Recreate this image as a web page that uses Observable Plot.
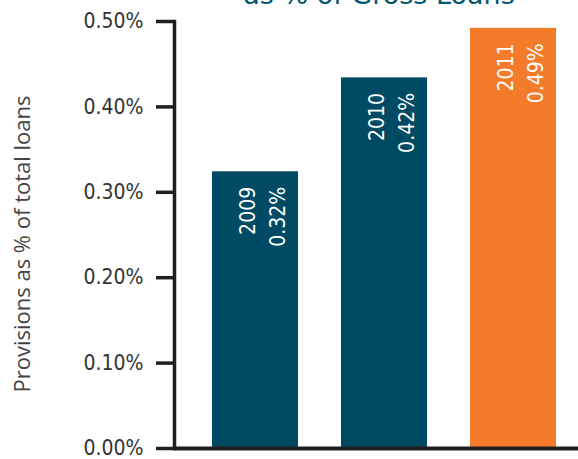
<!DOCTYPE html>
<html>
<head>
<meta charset="utf-8">
<script src="https://cdn.jsdelivr.net/npm/d3@7"></script>
<script src="https://cdn.jsdelivr.net/npm/@observablehq/plot@0.6"></script>
<style>
  html, body { margin: 0; padding: 0; background: #fff; }
  #wrap { position: relative; width: 578px; height: 459px; overflow: hidden; }
  #title { position: absolute; top: -19px; left: 0; width: 758px; text-align: center;
    font-family: "DejaVu Sans", sans-serif; font-size: 27px; line-height: 27px; color: #005570; white-space: nowrap; }
  #chart { position: absolute; top: 0; left: 0; }
</style>
</head>
<body>
<div id="wrap">
  <div id="title">as % of Gross Loans</div>
  <div id="chart"></div>
</div>
<script>
const years = ["2009", "2010", "2011"];
const values = [0.324, 0.434, 0.492];
const valueLabels = ["0.32%", "0.42%", "0.49%"];
const barColors = ["#004B63", "#004B63", "#F47B2A"];
const yTicks = [0, 0.1, 0.2, 0.3, 0.4, 0.5];
const yTickLabels = ["0.00%", "0.10%", "0.20%", "0.30%", "0.40%", "0.50%"];
const yLabel = "Provisions as % of total loans";

const data = years.map((year, i) => ({year, value: values[i], label: valueLabels[i], color: barColors[i]}));
const narrow = "'DejaVu Sans Condensed', 'Liberation Sans', sans-serif";

const chart = Plot.plot({
  width: 578,
  height: 459,
  marginTop: 21,
  marginBottom: 11,
  marginLeft: 174,
  marginRight: 0,
  style: {background: "transparent", overflow: "visible"},
  x: {domain: years, paddingInner: 0.33, paddingOuter: 0.225, align: 0.636, axis: null},
  y: {domain: [0, 0.5]},
  color: {type: "identity"},
  marks: [
    Plot.barY(data, {x: "year", y: "value", fill: "color"}),
    Plot.text(data, {
      x: "year", y: "value",
      text: d => d.year + "\n" + d.label,
      rotate: -90, textAnchor: "end", lineAnchor: "middle",
      dy: 15, dx: 5, lineHeight: 1.4,
      fill: "white", fontSize: 21, fontFamily: narrow
    }),
    Plot.axisY({
      ticks: yTicks,
      tickFormat: d => yTickLabels[yTicks.indexOf(d)],
      tickSize: 18, tickPadding: 13,
      stroke: "#231f20", strokeWidth: 3.5,
      fill: "#333", fontSize: 21, fontFamily: narrow,
      label: null
    }),
    Plot.text([yLabel], {
      text: d => d,
      frameAnchor: "left", textAnchor: "middle", lineAnchor: "middle",
      rotate: -90, dx: -152, dy: 9,
      fill: "#444", fontSize: 22, fontFamily: "'Open Sans', sans-serif"
    }),
    Plot.frame({anchor: "left", stroke: "#231f20", strokeWidth: 3.5}),
    Plot.ruleY([0], {stroke: "#231f20", strokeWidth: 4})
  ]
});
document.getElementById("chart").appendChild(chart);
</script>
</body>
</html>
